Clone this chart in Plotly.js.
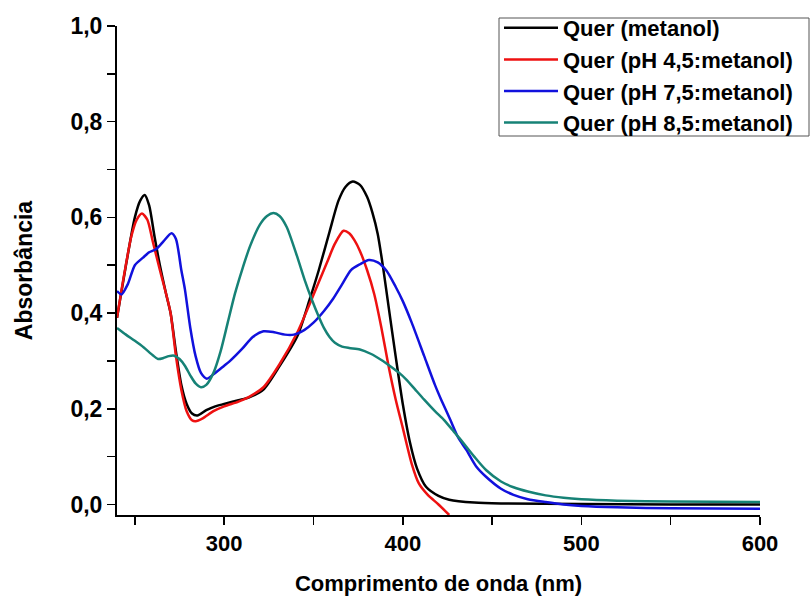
<!DOCTYPE html>
<html>
<head>
<meta charset="utf-8">
<script src="https://cdn.plot.ly/plotly-3.0.1.min.js"></script>
<style>html,body{margin:0;padding:0;background:#fff;}#chart{width:811px;height:599px;}</style>
</head>
<body>
<div id="chart"></div>
<script>
// Quer (metanol)
const blackX = [240,245,250,253,255.5,258,261,264,267.5,270,273,276,279,282,285,290,295,300,308,314,322,331,341,348,353,359,364,368,372,376,380,383,386,389,392,396,400,404,408,413,420,426,440,455,500,550,600];
const blackY = [0.39,0.50,0.60,0.635,0.647,0.625,0.56,0.50,0.44,0.40,0.32,0.25,0.21,0.19,0.186,0.197,0.205,0.21,0.218,0.224,0.24,0.289,0.352,0.43,0.49,0.57,0.635,0.664,0.675,0.668,0.643,0.61,0.565,0.495,0.415,0.31,0.21,0.13,0.075,0.037,0.018,0.01,0.004,0.002,0.001,0.0,0.0];
// Quer (pH 4,5:metanol)
const redX = [240,244,248,251,254,257,260,264,267.5,270,273,276,279,282,284,288,294,300,308,314,322,331,341,348,353,357.5,362,366.8,370,373,376,380,384,388,392,396,400,405,409,414,420,426];
const redY = [0.39,0.48,0.56,0.595,0.608,0.595,0.55,0.49,0.44,0.40,0.31,0.24,0.195,0.176,0.174,0.18,0.195,0.205,0.215,0.225,0.245,0.293,0.36,0.42,0.465,0.505,0.545,0.572,0.567,0.552,0.53,0.49,0.44,0.37,0.29,0.22,0.16,0.085,0.044,0.02,0.0,-0.022];
// Quer (pH 7,5:metanol)
const blueX = [240,242.5,246,250,254.6,258,262,266,270.5,273,276,278,281,284,287,290.3,295,300,303,310,316,322,328,334,339,345,350,356,361,366,371,376,381,386,391,396,400,405,412,418,421.5,426.6,431,435.6,441,446.6,455,462,470,480,490,500,520,550,600];
const blueY = [0.446,0.439,0.46,0.50,0.516,0.527,0.534,0.55,0.567,0.555,0.49,0.45,0.37,0.31,0.275,0.263,0.275,0.29,0.299,0.325,0.35,0.362,0.36,0.355,0.355,0.365,0.38,0.405,0.43,0.46,0.49,0.502,0.511,0.506,0.488,0.455,0.425,0.38,0.31,0.25,0.219,0.177,0.14,0.114,0.08,0.058,0.033,0.02,0.011,0.005,0.0,-0.003,-0.006,-0.008,-0.009];
// Quer (pH 8,5:metanol)
const tealX = [240,245,250,255,260,263,266,269,272,275,278,281,284,287,290,294,298,302,306,310,314.5,320,324,327.6,331,335,340.7,345,349,352.8,356,359,362,366,370,376,382,388,393,398,402,407,412,418,423,428,432.5,440,446.6,455,462,470,480,490,500,520,550,600];
const tealY = [0.369,0.355,0.342,0.328,0.312,0.304,0.306,0.31,0.311,0.304,0.29,0.27,0.253,0.245,0.25,0.275,0.32,0.38,0.44,0.49,0.54,0.585,0.603,0.609,0.603,0.58,0.52,0.47,0.429,0.394,0.368,0.35,0.338,0.33,0.327,0.324,0.315,0.302,0.289,0.275,0.261,0.24,0.219,0.195,0.177,0.155,0.135,0.1,0.072,0.048,0.036,0.027,0.019,0.014,0.011,0.008,0.006,0.005];

const seriesNames = ['Quer (metanol)','Quer (pH 4,5:metanol)','Quer (pH 7,5:metanol)','Quer (pH 8,5:metanol)'];
const seriesColors = ['#000000','#ee1111','#1111dd','#168276'];
const xs = [blackX, redX, blueX, tealX];
const ys = [blackY, redY, blueY, tealY];

const FONT = '"Liberation Sans", Arial, sans-serif';
const traces = seriesNames.map((n,i)=>({
  x: xs[i], y: ys[i], name: n, type: 'scatter', mode: 'lines',
  line: {color: seriesColors[i], width: 2.5, shape: 'spline', smoothing: 0.7},
  cliponaxis: true
}));

// plot area: x 117..760 px, y 26..515 px
const PW = 643, PH = 489;
const layout = {
  width: 811, height: 599,
  margin: {l: 117, r: 51, t: 26, b: 84, autoexpand: false},
  paper_bgcolor: '#ffffff', plot_bgcolor: '#ffffff',
  separators: ', ',
  showlegend: true,
  font: {family: FONT, color: '#000', size: 20, weight: 'bold'},
  xaxis: {
    range: [240, 600], tick0: 0, dtick: 100,
    showgrid: false, zeroline: false,
    showline: true, linecolor: '#000', linewidth: 2,
    ticks: 'outside', ticklen: 8, tickwidth: 1.5, tickcolor: '#000',
    minor: {dtick: 50, ticks: 'outside', ticklen: 8, tickwidth: 1.5, tickcolor: '#000', showgrid: false},
    tickfont: {family: FONT, size: 22, color: '#000', weight: 'bold'},
    title: {text: 'Comprimento de onda (nm)', font: {family: FONT, size: 22, color: '#000', weight: 'bold'}, standoff: 20}
  },
  yaxis: {
    range: [-0.022, 1.0], tick0: 0, dtick: 0.2, tickformat: '.1f',
    showgrid: false, zeroline: false,
    showline: true, linecolor: '#000', linewidth: 2,
    ticks: 'outside', ticklen: 8, tickwidth: 1.5, tickcolor: '#000',
    minor: {dtick: 0.1, ticks: 'outside', ticklen: 8, tickwidth: 1.5, tickcolor: '#000', showgrid: false},
    tickfont: {family: FONT, size: 23, color: '#000', weight: 'bold'},
    title: {text: 'Absorbância', font: {family: FONT, size: 23, color: '#000', weight: 'bold'}, standoff: 31}
  },
  legend: {
    x: (499-117)/PW, xanchor: 'left', y: 1 + (26-7)/PH, yanchor: 'top',
    bgcolor: 'rgba(0,0,0,0)', borderwidth: 0,
    font: {family: FONT, size: 22, color: '#000', weight: 'bold'},
    itemwidth: 54, tracegroupgap: 0
  },
  shapes: [{
    type: 'rect', xref: 'paper', yref: 'paper', layer: 'above',
    x0: (499-117)/PW, x1: (809-117)/PW, y0: 1 - (136-26)/PH, y1: 1 + (26-18)/PH,
    line: {color: '#555', width: 1}, fillcolor: 'rgba(255,255,255,0)'
  }]
};

Plotly.newPlot('chart', traces, layout, {displayModeBar: false, staticPlot: true});
</script>
</body>
</html>
